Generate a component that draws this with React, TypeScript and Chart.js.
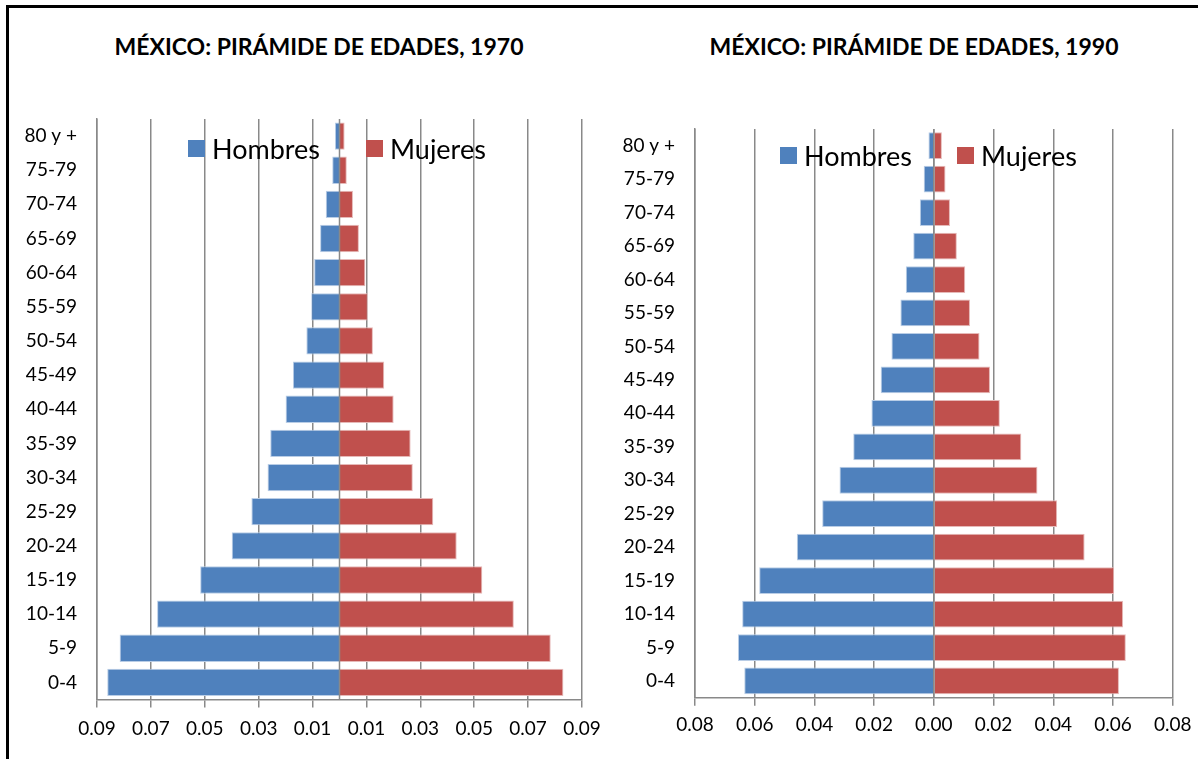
import React, { useEffect, useRef } from "react";
import { Chart, registerables } from "chart.js";

Chart.register(...registerables);

// ---------- DATA ----------
const ageGroups = [
  "0-4", "5-9", "10-14", "15-19", "20-24", "25-29", "30-34", "35-39",
  "40-44", "45-49", "50-54", "55-59", "60-64", "65-69", "70-74", "75-79", "80 y +",
];

const hombres1970 = [
  -0.0862, -0.0816, -0.0677, -0.0517, -0.04, -0.0327, -0.0267, -0.0257,
  -0.02, -0.0173, -0.0123, -0.0105, -0.0094, -0.0072, -0.0051, -0.0027, -0.0017,
];
const mujeres1970 = [
  0.0831, 0.0784, 0.0647, 0.053, 0.0435, 0.0348, 0.0272, 0.0264,
  0.0201, 0.0166, 0.0124, 0.0105, 0.0096, 0.0072, 0.005, 0.0027, 0.0019,
];

const hombres1990 = [
  -0.0635, -0.0656, -0.0642, -0.0585, -0.0459, -0.0374, -0.0316, -0.027,
  -0.0209, -0.0178, -0.0142, -0.0112, -0.0094, -0.0069, -0.0047, -0.0034, -0.0018,
];
const mujeres1990 = [
  0.062, 0.0643, 0.0634, 0.0604, 0.0505, 0.0413, 0.0347, 0.0293,
  0.0221, 0.0188, 0.0153, 0.0121, 0.0105, 0.0077, 0.0054, 0.0039, 0.0027,
];

const seriesNames = ["Hombres", "Mujeres"];
const titles = ["MÉXICO: PIRÁMIDE DE EDADES, 1970", "MÉXICO: PIRÁMIDE DE EDADES, 1990"];
const axisMax1970 = 0.09;
const axisMax1990 = 0.08;
const tickStep = 0.02;

// ---------- STYLE ----------
const BLUE = "#4F81BD";
const RED = "#C0504D";
const BLUE_EDGE = "#b9cde6";
const RED_EDGE = "#e6b9b8";
const GRID = "#898989";
const FONT = "Lato, 'Open Sans', sans-serif";

const zeroLine = {
  id: "zeroLine",
  afterDatasetsDraw(chart: any) {
    const { ctx, chartArea, scales } = chart;
    const x = scales.x.getPixelForValue(0);
    ctx.save();
    ctx.strokeStyle = GRID;
    ctx.lineWidth = 1.5;
    ctx.beginPath();
    ctx.moveTo(x, chartArea.top);
    ctx.lineTo(x, chartArea.bottom);
    ctx.stroke();
    ctx.restore();
  },
};

type PyramidProps = {
  hombres: number[];
  mujeres: number[];
  axisMax: number;
  left: number;
  top: number;
  width: number;
  height: number;
  yAxisWidth: number;
  xAxisHeight: number;
  padTop: number;
  padRight: number;
  xLabelPad: number;
};

function Pyramid(p: PyramidProps) {
  const ref = useRef<HTMLCanvasElement>(null);
  useEffect(() => {
    const chart = new Chart(ref.current as HTMLCanvasElement, {
      type: "bar",
      data: {
        labels: ageGroups,
        datasets: [
          {
            label: seriesNames[0],
            data: p.hombres,
            backgroundColor: BLUE,
            borderColor: BLUE_EDGE,
            borderWidth: 1,
            barPercentage: 0.8,
            categoryPercentage: 1,
          },
          {
            label: seriesNames[1],
            data: p.mujeres,
            backgroundColor: RED,
            borderColor: RED_EDGE,
            borderWidth: 1,
            barPercentage: 0.8,
            categoryPercentage: 1,
          },
        ],
      },
      options: {
        indexAxis: "y",
        responsive: false,
        animation: false,
        layout: { padding: { top: p.padTop, right: p.padRight, left: 0, bottom: 0 } },
        plugins: {
          legend: { display: false },
          tooltip: { enabled: false },
          title: { display: false },
        },
        scales: {
          x: {
            type: "linear",
            min: -p.axisMax,
            max: p.axisMax,
            stacked: true,
            ticks: {
              stepSize: tickStep,
              padding: p.xLabelPad,
              color: "#000",
              font: { family: FONT, size: 19 },
              maxRotation: 0,
              autoSkip: false,
              callback: (v: any) => Math.abs(Number(v)).toFixed(2),
            },
            grid: {
              color: GRID,
              lineWidth: 1.5,
              drawTicks: true,
              tickLength: 8,
              tickColor: GRID,
            },
            border: { display: true, color: GRID, width: 1.5 },
            afterFit: (s: any) => {
              s.height = p.xAxisHeight;
              s.paddingLeft = 0;
              s.paddingRight = 0;
            },
          },
          y: {
            type: "category",
            stacked: true,
            reverse: true,
            ticks: {
              padding: 20,
              color: "#000",
              font: { family: FONT, size: 19 },
              autoSkip: false,
            },
            grid: { display: false, drawTicks: false },
            border: { display: true, color: GRID, width: 1.5 },
            afterFit: (s: any) => {
              s.width = p.yAxisWidth;
              s.paddingTop = 0;
              s.paddingBottom = 0;
            },
          },
        },
      } as any,
      plugins: [zeroLine],
    });
    return () => chart.destroy();
  }, []);
  return (
    <canvas
      ref={ref}
      width={p.width}
      height={p.height}
      style={{ position: "absolute", left: p.left, top: p.top, width: p.width, height: p.height }}
    />
  );
}

function LegendItem({ x, y, color, text }: { x: number; y: number; color: string; text: string }) {
  return (
    <div
      style={{
        position: "absolute",
        left: x,
        top: y - 15,
        height: 30,
        display: "flex",
        alignItems: "center",
        fontFamily: FONT,
        fontSize: 27,
        color: "#000",
        whiteSpace: "nowrap",
      }}
    >
      <span style={{ display: "inline-block", width: 17, height: 17, background: color, marginRight: 7 }} />
      <span>{text}</span>
    </div>
  );
}

function Title({ cx, text }: { cx: number; text: string }) {
  return (
    <div
      style={{
        position: "absolute",
        left: cx - 300,
        width: 600,
        top: 31,
        height: 30,
        lineHeight: "30px",
        textAlign: "center",
        fontFamily: FONT,
        fontWeight: 700,
        fontSize: 23,
        color: "#000",
        whiteSpace: "nowrap",
      }}
    >
      {text}
    </div>
  );
}

export default function App() {
  return (
    <div
      style={{
        position: "absolute",
        left: 0,
        top: 0,
        width: 1198,
        height: 759,
        background: "#fff",
        overflow: "hidden",
      }}
    >
      <div
        style={{
          position: "absolute",
          left: 6,
          top: 5,
          width: 1192,
          height: 754,
          borderTop: "3px solid #000",
          borderLeft: "3px solid #000",
          boxSizing: "border-box",
        }}
      />
      <Title cx={319} text={titles[0]} />
      <Title cx={914} text={titles[1]} />
      <Pyramid
        hombres={hombres1970}
        mujeres={mujeres1970}
        axisMax={axisMax1970}
        left={10}
        top={10}
        width={597}
        height={749}
        yAxisWidth={87}
        xAxisHeight={59.5}
        padTop={109}
        padRight={25}
        xLabelPad={10}
      />
      <Pyramid
        hombres={hombres1990}
        mujeres={mujeres1990}
        axisMax={axisMax1990}
        left={605}
        top={10}
        width={593}
        height={749}
        yAxisWidth={90}
        xAxisHeight={61.3}
        padTop={119}
        padRight={25.3}
        xLabelPad={8}
      />
      <LegendItem x={188} y={148} color={BLUE} text={seriesNames[0]} />
      <LegendItem x={366} y={148} color={RED} text={seriesNames[1]} />
      <LegendItem x={780} y={155} color={BLUE} text={seriesNames[0]} />
      <LegendItem x={957} y={155} color={RED} text={seriesNames[1]} />
    </div>
  );
}
